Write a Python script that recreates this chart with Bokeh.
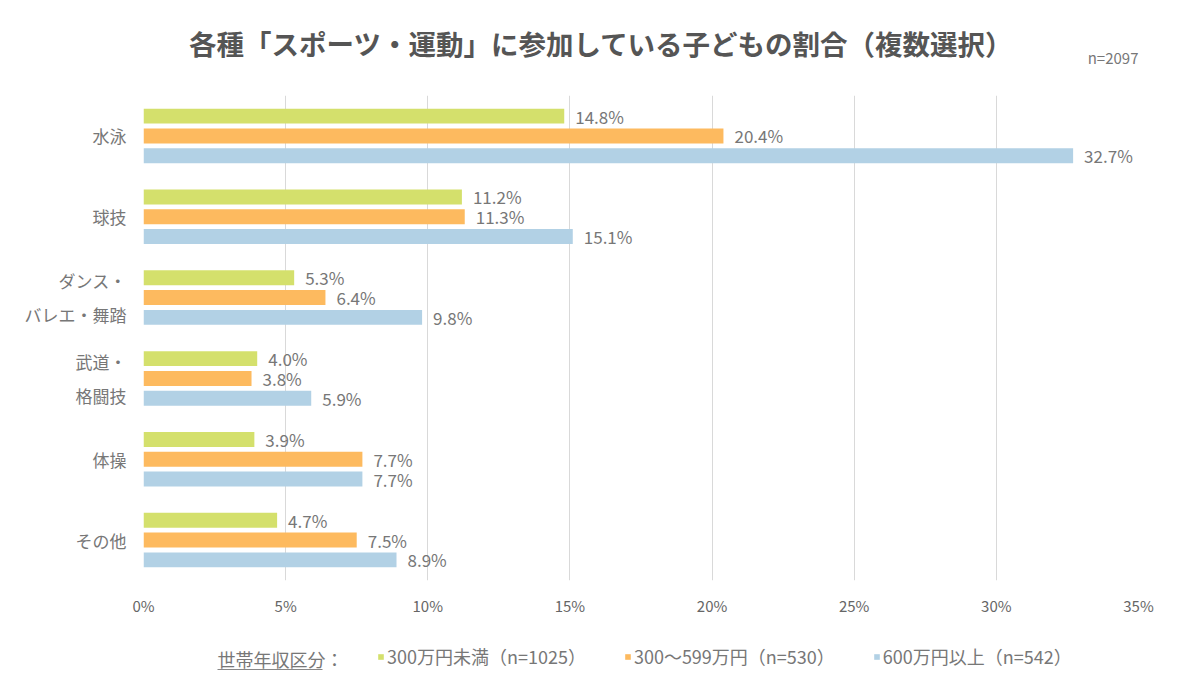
from bokeh.plotting import figure
from bokeh.layouts import column
from bokeh.models import (ColumnDataSource, FactorRange, Range1d, Legend, LegendItem,
                          PrintfTickFormatter, FixedTicker)
from bokeh.transform import dodge
from bokeh.core.properties import value
from bokeh.embed import file_html
from bokeh.resources import INLINE

# data
categories = ["水泳", "球技", "ダンス・\nバレエ・舞踏", "武道・\n格闘技", "体操", "その他"]
series = ["300万円未満（n=1025）", "300〜599万円（n=530）", "600万円以上（n=542）"]
under300 = [14.8, 11.2, 5.3, 4.0, 3.9, 4.7]
mid300_599 = [20.4, 11.3, 6.4, 3.8, 7.7, 7.5]
over600 = [32.7, 15.1, 9.8, 5.9, 7.7, 8.9]
x_ticks = [0, 5, 10, 15, 20, 25, 30, 35]
title_text = "各種「スポーツ・運動」に参加している子どもの割合（複数選択）"
sample_note = "n=2097"
legend_title = "世帯年収区分"

colors = ["#D4E06C", "#FDBA5F", "#B2D1E5"]
offsets = [0.245, 0.0, -0.245]
FONT = "Noto Sans CJK JP"
W = 1192
FL, FR = 143, 1138   # frame edges, shared by the three strips

# header strip: title and sample size
head = figure(width=W, height=80, x_range=Range1d(FL, FR), y_range=Range1d(0, 80),
              output_backend="svg", toolbar_location=None,
              x_axis_location=None, y_axis_location=None,
              min_border_left=FL, min_border_right=W - FR, min_border_top=0, min_border_bottom=0)
head.outline_line_color = None
head.grid.visible = False
head.text(x=[601], y=[38], text=[title_text], text_align="center", text_baseline="middle",
          text_font=value(FONT), text_font_size="27.5px", text_font_style="bold",
          text_color="#555555")
head.text(x=[FR], y=[23], text=[sample_note], text_align="right", text_baseline="middle",
          text_font=value(FONT), text_font_size="15px", text_color="#777777")

# main chart
p = figure(width=W, height=548, x_range=(0, 35),
           y_range=FactorRange(factors=categories[::-1]),
           output_backend="svg", toolbar_location=None,
           min_border_left=FL, min_border_right=W - FR,
           min_border_top=15, min_border_bottom=48)
p.outline_line_color = None
p.ygrid.grid_line_color = None
p.xgrid.grid_line_color = "#d9d9d9"

p.xaxis.ticker = FixedTicker(ticks=x_ticks)
p.xaxis.formatter = PrintfTickFormatter(format="%d%%")
p.xaxis.axis_line_color = None
p.xaxis.major_tick_line_color = None
p.xaxis.minor_tick_line_color = None
p.xaxis.major_label_standoff = 8
p.xaxis.major_label_text_font = FONT
p.xaxis.major_label_text_font_size = "15px"
p.xaxis.major_label_text_color = "#666666"

p.yaxis.axis_line_color = None
p.yaxis.major_tick_line_color = None
p.yaxis.major_label_standoff = 11
p.yaxis.major_label_text_font = FONT
p.yaxis.major_label_text_font_size = "17px"
p.yaxis.major_label_text_color = "#777777"
p.yaxis.major_label_text_line_height = 1.38

for vals, col, off in zip([under300, mid300_599, over600], colors, offsets):
    src = ColumnDataSource(dict(y=categories, x=vals,
                                label=["%.1f%%" % v for v in vals]))
    p.hbar(y=dodge("y", off, range=p.y_range), left=0, right="x",
           height=0.185, fill_color=col, line_color=None, source=src)
    p.text(x="x", y=dodge("y", off, range=p.y_range), text="label", source=src,
           x_offset=11, text_baseline="middle", text_align="left",
           text_font=value(FONT), text_font_size="17px", text_color="#777777")

# legend strip
leg = figure(width=W, height=56, x_range=Range1d(FL, FR), y_range=Range1d(0, 56),
             output_backend="svg", toolbar_location=None,
             x_axis_location=None, y_axis_location=None,
             min_border_left=FL, min_border_right=W - FR, min_border_top=0, min_border_bottom=0)
leg.outline_line_color = None
leg.grid.visible = False
leg.text(x=[217], y=[26], text=[legend_title + "："], text_align="left", text_baseline="middle",
         text_font=value(FONT), text_font_size="18px", text_color="#777777")
leg.segment(x0=[217], x1=[322], y0=[15], y1=[15], line_color="#888888", line_width=1)
# off-screen bars that only lend their colour to the legend swatches
swatches = [leg.hbar(y=[-100], left=[FL], right=[FL + 1], height=1,
                     fill_color=c, line_color=None) for c in colors]
legend = Legend(items=[LegendItem(label=value(s), renderers=[r]) for s, r in zip(series, swatches)],
                location=(377 - FL, 15), orientation="horizontal",
                glyph_width=7, glyph_height=7, label_standoff=3, spacing=38,
                padding=0, margin=0, border_line_color=None, background_fill_alpha=0,
                label_text_font=FONT, label_text_font_size="18px",
                label_text_color="#777777")
leg.add_layout(legend)

open("out.html", "w").write(file_html(column(head, p, leg, spacing=0), INLINE))
